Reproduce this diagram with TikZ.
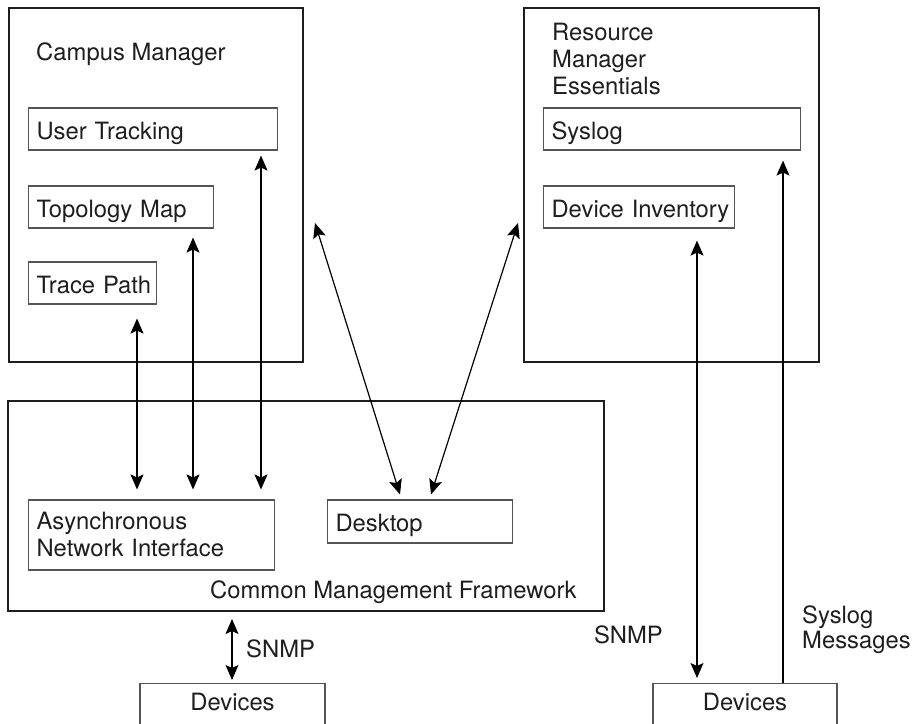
\documentclass[tikz,border=0pt]{standalone}
\usepackage{fontspec}
\setmainfont{TeX Gyre Heros}
\usetikzlibrary{arrows.meta,calc}
\definecolor{ink}{HTML}{1E1E1E}
\definecolor{boxgray}{HTML}{555555}
\begin{document}
\begin{tikzpicture}[x=1pt,y=-1pt,
  font=\fontsize{23.8pt}{27pt}\selectfont, text=ink,
  bigbox/.style={draw=ink, line width=2pt, inner sep=0pt},
  inbox/.style={draw=boxgray, line width=1.1pt, minimum height=42pt, inner xsep=8pt, inner ysep=0pt,
                text height=20pt, text depth=0pt, align=left, anchor=west},
  lbl/.style={inner sep=0pt, anchor=base west},
  multilbl/.style={inner sep=0pt, anchor=base west, text width=200pt, align=left},
  headtip/.tip={Stealth[length=15pt,width=13pt,inset=3pt]},
  biarr/.style={draw=black, line width=1.2pt, headtip-headtip},
  uparr/.style={draw=black, line width=1.2pt, -headtip}
]
\useasboundingbox (0,0) rectangle (912,723);
\fill[white] (0,0) rectangle (912,723);
\clip (0,0) rectangle (912,723);

% column coordinates for vertical connectors
\coordinate (c1) at (137,0);
\coordinate (c2) at (193,0);
\coordinate (c3) at (261,0);
\coordinate (c4) at (697,0);
\coordinate (c5) at (783,0);
\coordinate (c6) at (232,0);

% Campus Manager
\node[bigbox, minimum width=294pt, minimum height=354pt] (cm) at (156,185) {};
\node[lbl] (cmlabel) at (36,60) {Campus Manager};
\node[inbox, text width=233pt] (ut) at (28,129) {\mbox{User Tracking}};
\node[inbox, text width=169pt] (topo) at (28,207) {\mbox{Topology Map}};
\node[inbox, text width=112pt] (trace) at (28,283) {\mbox{Trace Path}};

% Resource Manager Essentials
\node[bigbox, minimum width=295pt, minimum height=354pt] (rme) at (671.5,185) {};
\node[multilbl] (rmelabel) at (552,40) {Resource\\Manager\\Essentials};
\node[inbox, text width=241pt] (syslog) at (543,129) {\mbox{Syslog}};
\node[inbox, text width=175pt] (devinv) at (543,207) {\mbox{Device Inventory}};

% Common Management Framework
\node[bigbox, minimum width=596pt, minimum height=210pt] (cmf) at (306,506) {};
\node[inbox, text width=230pt, minimum height=70pt, text height=16pt, text depth=27pt] (ani) at (28,535) {Asynchronous\\\mbox{Network Interface}};
\node[inbox, text width=169pt, minimum height=43pt] (desk) at (327,521.5) {\mbox{Desktop}};
\node[lbl] (cmflabel) at (210,598) {Common Management Framework};

% Devices
\node[inbox, anchor=north, align=center, text width=169pt, minimum height=0pt, text height=27pt, text depth=30pt] (dev1) at (232.5,683) {Devices};
\node[inbox, anchor=north, align=center, text width=168pt, minimum height=0pt, text height=27pt, text depth=30pt] (dev2) at (745,683) {Devices};

% labels
\node[lbl] (snmp1) at (246,657) {SNMP};
\node[inner sep=0pt, anchor=base east] (snmp2) at (663,643) {SNMP};
\node[multilbl, text width=110pt, font=\fontsize{23.8pt}{25pt}\selectfont] (syslogmsg) at (802,623) {Syslog\\Messages};

% connectors
\draw[biarr, shorten <=14pt, shorten >=10pt] (trace.south -| c1) -- (ani.north -| c1);
\draw[biarr, shorten <=9pt, shorten >=10pt] (topo.south -| c2) -- (ani.north -| c2);
\draw[biarr, shorten <=5pt, shorten >=10pt] (ut.south -| c3) -- (ani.north -| c3);
\draw[biarr] ($(cm.east)+(11,38)$) -- ($(desk.north west)+(73,-5)$);
\draw[biarr] ($(rme.west)+(-5,38)$) -- ($(desk.north west)+(104,-5)$);
\draw[biarr, shorten <=12pt, shorten >=5pt] (devinv.south -| c4) -- (dev2.north -| c4);
\draw[uparr, shorten >=10pt] (dev2.north -| c5) -- (syslog.south -| c5);
\draw[biarr, shorten <=7pt, shorten >=3pt] (cmf.south -| c6) -- (dev1.north -| c6);
\end{tikzpicture}
\end{document}
